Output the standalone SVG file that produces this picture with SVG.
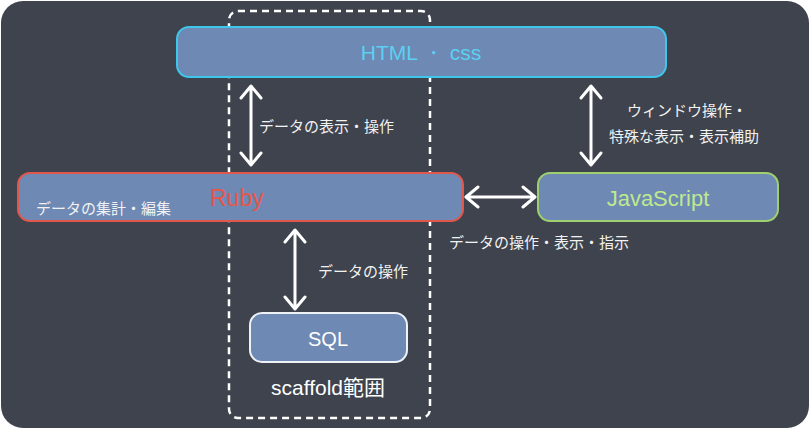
<svg xmlns="http://www.w3.org/2000/svg" width="810" height="429" viewBox="0 0 810 429">
<style>
.box{fill:#6e89b4;stroke-width:2}
.t{font-family:"Noto Sans CJK JP","Noto Sans",sans-serif;fill:#f2f2f2;font-size:15px}
.c{stroke:#fff;stroke-width:3;fill:none;stroke-linecap:round;stroke-linejoin:round}
</style>
<rect width="810" height="429" fill="#fff"/>
<rect x="1" y="1" width="808" height="427" rx="22" fill="#3e434d"/>
<rect x="229" y="11" width="201" height="407" rx="9" fill="none" stroke="#fff" stroke-width="2.5" stroke-dasharray="7,5"/>
<g id="html"><rect class="box" x="177" y="27" width="489" height="50" rx="12" stroke="#3fc6ec"/>
<text x="421" y="60" text-anchor="middle" font-family="Liberation Sans,sans-serif" font-size="21" fill="#5cd0f2">HTML ・ css</text></g>
<g id="ruby"><rect class="box" x="18" y="173" width="445" height="48" rx="12" stroke="#e2574c"/>
<text class="t" x="36" y="214">データの集計・編集</text>
<text x="210" y="206" font-family="Liberation Sans,sans-serif" font-size="23" fill="#e8554a">Ruby</text></g>
<g id="js"><rect class="box" x="538" y="173" width="240" height="48" rx="12" stroke="#9ed070"/>
<text x="658" y="206" text-anchor="middle" font-family="Liberation Sans,sans-serif" font-size="22" fill="#bfe88f">JavaScript</text></g>
<g id="sql"><rect class="box" x="250" y="313" width="157" height="49" rx="12" stroke="#eef2f6"/>
<text x="328" y="346" text-anchor="middle" font-family="Liberation Sans,sans-serif" font-size="20" fill="#fff">SQL</text></g>
<text x="328" y="395" text-anchor="middle" font-family="Liberation Sans,'Noto Sans CJK JP',sans-serif" font-size="21" fill="#fff">scaffold範囲</text>
<g id="connectors">
<path class="c" d="M251 88V163M241 98L251 86L261 98M241 153L251 165L261 153"/>
<path class="c" d="M591 88V163M581 98L591 86L601 98M581 153L591 165L601 153"/>
<path class="c" d="M468 197H533M478 187L466 197L478 207M523 187L535 197L523 207"/>
<path class="c" d="M295 232V307M285 242L295 230L305 242M285 297L295 309L305 297"/>
</g>
<text class="t" x="259" y="132">データの表示・操作</text>
<text class="t" x="627" y="116">ウィンドウ操作・</text>
<text class="t" x="609" y="142">特殊な表示・表示補助</text>
<text class="t" x="449" y="248">データの操作・表示・指示</text>
<text class="t" x="318" y="277">データの操作</text>
</svg>
